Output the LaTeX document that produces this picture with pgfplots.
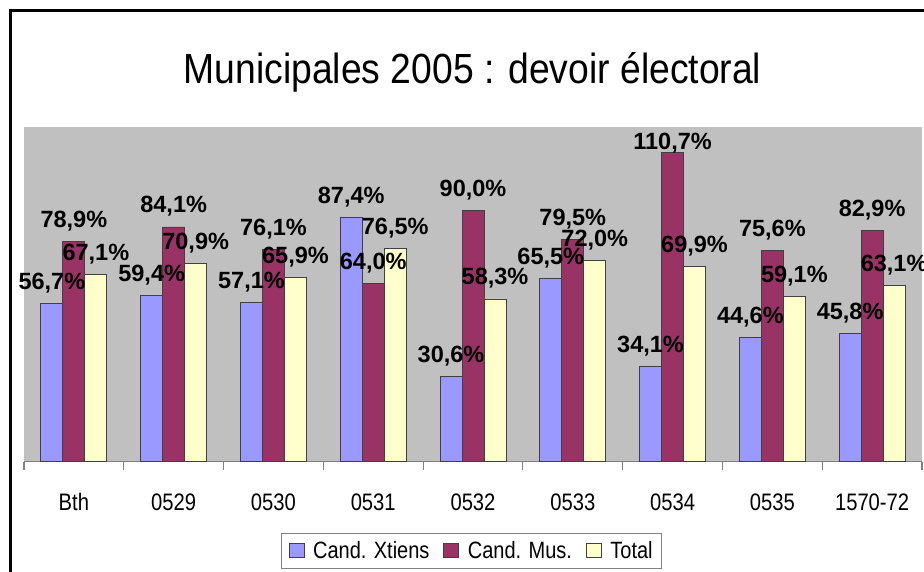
\documentclass[border=0pt]{standalone}
\usepackage{fontspec}
\setmainfont{Liberation Sans}
\usepackage{graphicx}
\usepackage{pgfplots}
\pgfplotsset{compat=1.18}

\definecolor{cx}{HTML}{9999FF}
\definecolor{cm}{HTML}{993366}
\definecolor{ct}{HTML}{FFFFCC}
\definecolor{plotgray}{HTML}{C0C0C0}

% the reference's text is stretched vertically
\newcommand{\tall}[1]{\scalebox{1}[1.18]{#1}}

\pgfplotsset{
    lbl/.style={draw=none, fill=none, forget plot, bar shift=#1,
        nodes near coords={\pgfmathprintnumber[fixed,fixed zerofill,precision=1,use comma,assume math mode=true]{\pgfplotspointmeta}\%},
        nodes near coords style={font=\bfseries\fontsize{23.5}{26}\selectfont, anchor=base, inner sep=0pt, yshift=14pt}},
    barstyle/.style={draw=black!75, line width=0.8pt, bar shift=#1},
}

\begin{document}
\begin{tikzpicture}
\useasboundingbox (0pt,0pt) rectangle (924pt,572pt);
\begin{axis}[
    at={(24pt,110.3pt)}, anchor=south west,
    width=898pt, height=335pt, scale only axis,
    ybar, bar width=22pt,
    xmin=-0.5, xmax=8.5, ymin=0, ymax=120,
    axis background/.style={fill=plotgray},
    axis x line*=bottom, axis y line*=left,
    x axis line style={draw=gray, line width=1.5pt, -},
    y axis line style={draw=none},
    ytick=\empty,
    xtick={0,...,8},
    xticklabels={\tall{Bth},\tall{0529},\tall{0530},\tall{0531},\tall{0532},\tall{0533},\tall{0534},\tall{0535},\tall{1570-72}},
    major tick length=0pt,
    minor xtick={-0.5,0.5,...,8.5},
    minor tick length=8pt,
    tick align=outside,
    minor tick style={gray, line width=1.2pt},
    xticklabel style={font=\fontsize{20.2}{24}\selectfont, anchor=base, yshift=-49pt},
    clip=false,
    legend image code/.code={
        \path[draw=none, fill=none] (0pt,0pt) -- (22pt,0pt);
        \draw[#1, line width=0.8pt] (0pt,-7pt) rectangle (15pt,7pt);},
    legend columns=3,
    legend style={at={(0.4985,-0.266)}, anchor=center, draw=gray, line width=1pt, fill=white,
        font=\fontsize{20}{24}\selectfont, inner xsep=7pt, inner ysep=6pt,
        /tikz/every even column/.append style={column sep=12pt}},
]
\addplot[fill=cx, barstyle=-22pt] coordinates {
    (0,56.7) (1,59.4) (2,57.1) (3,87.4) (4,30.6) (5,65.5) (6,34.1) (7,44.6) (8,45.8)};
\addplot[fill=cm, barstyle=0pt] coordinates {
    (0,78.9) (1,84.1) (2,76.1) (3,64.0) (4,90.0) (5,79.5) (6,110.7) (7,75.6) (8,82.9)};
\addplot[fill=ct, barstyle=22pt] coordinates {
    (0,67.1) (1,70.9) (2,65.9) (3,76.5) (4,58.3) (5,72.0) (6,69.9) (7,59.1) (8,63.1)};
\legend{\tall{Cand. Xtiens},\tall{Cand. Mus.},\tall{Total}}
% value labels, drawn after all bars so that they stay on top
\addplot[lbl=-22pt] coordinates {
    (0,56.7) (1,59.4) (2,57.1) (3,87.4) (4,30.6) (5,65.5) (6,34.1) (7,44.6) (8,45.8)};
\addplot[lbl=0pt] coordinates {
    (0,78.9) (1,84.1) (2,76.1) (3,64.0) (4,90.0) (5,79.5) (7,75.6) (8,82.9)};
% the tallest label sits close to its bar, kept inside the plot area (net shift 3pt)
\addplot[lbl=0pt, nodes near coords style={yshift=-11pt}] coordinates {(6,110.7)};
\addplot[lbl=22pt] coordinates {
    (0,67.1) (1,70.9) (2,65.9) (3,76.5) (4,58.3) (5,72.0) (6,69.9) (7,59.1) (8,63.1)};
\end{axis}
\node[anchor=base, inner sep=0pt] at (472.5pt,488.7pt)
    {\scalebox{1}[1.13]{\fontsize{37.3}{42}\selectfont Municipales 2005 : devoir électoral}};
\draw[line width=3pt] (10pt,0pt) -- (10pt,561pt) -- (930pt,561pt);
\end{tikzpicture}
\end{document}
